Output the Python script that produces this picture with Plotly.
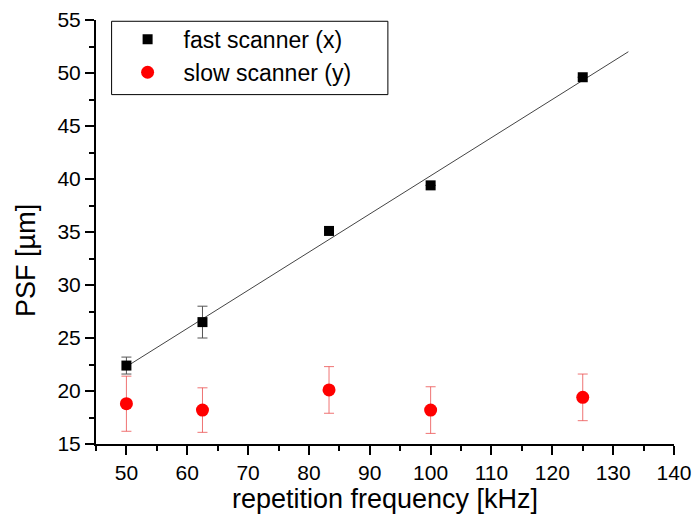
import numpy as np
import plotly.graph_objects as go

freq = [50, 62.5, 83.3, 100, 125]
fast_psf = [22.4, 26.5, 35.1, 39.4, 49.6]
fast_err = [0.8, 1.5, 0.0, 0.0, 0.0]
slow_psf = [18.8, 18.2, 20.1, 18.2, 19.4]
slow_err = [2.6, 2.1, 2.2, 2.2, 2.2]
fit_range = [50, 132.5]

slope, intercept = np.polyfit(freq, fast_psf, 1)
fit_y = [slope * v + intercept for v in fit_range]

font = "Liberation Sans, Arial, sans-serif"
fig = go.Figure()
fig.add_trace(go.Scatter(x=fit_range, y=fit_y, mode="lines",
                         line=dict(color="#444444", width=1), showlegend=False, hoverinfo="skip"))
fig.add_trace(go.Scatter(x=freq, y=fast_psf, mode="markers", name="fast scanner (x)",
                         marker=dict(symbol="square", size=10, color="black"),
                         error_y=dict(type="data", array=fast_err, color="#555555", thickness=1, width=5)))
fig.add_trace(go.Scatter(x=freq, y=slow_psf, mode="markers", name="slow scanner (y)",
                         marker=dict(symbol="circle", size=13, color="#ff0000"),
                         error_y=dict(type="data", array=slow_err, color="rgba(235,80,80,0.8)", thickness=1, width=5)))

fig.add_shape(type="rect", xref="paper", yref="paper", x0=0.027, x1=0.505, y0=0.824, y1=0.997,
              line=dict(color="black", width=1), fillcolor="white", layer="below")

fig.add_annotation(text="PSF [µm]", textangle=-90, xref="paper", yref="paper",
                   x=-0.121, y=0.432, xanchor="center", yanchor="middle", showarrow=False,
                   borderpad=0, font=dict(size=27, family=font, color="black"))

fig.update_layout(
    width=692, height=519,
    margin=dict(l=88, r=26, t=10, b=83),
    plot_bgcolor="white", paper_bgcolor="white",
    font=dict(family=font, size=21, color="black"),
    legend=dict(x=0.027, y=1.005, xanchor="left", yanchor="top",
                borderwidth=0, bgcolor="rgba(0,0,0,0)",
                font=dict(size=23), itemsizing="trace", itemwidth=62, tracegroupgap=0),
    xaxis=dict(range=[45, 140], dtick=10, tick0=0, showgrid=False, zeroline=False,
               showline=True, linecolor="black", linewidth=2, automargin=False,
               ticks="outside", ticklen=9, tickwidth=1.5, tickcolor="black",
               minor=dict(dtick=5, ticks="outside", ticklen=5, tickwidth=1.5, tickcolor="black"),
               title=dict(text="repetition frequency [kHz]", font=dict(size=27), standoff=6),
               tickfont=dict(size=21)),
    yaxis=dict(range=[15, 55], dtick=5, tick0=0, showgrid=False, zeroline=False,
               showline=True, linecolor="black", linewidth=2, automargin=False,
               ticks="outside", ticklen=9, tickwidth=1.5, tickcolor="black",
               minor=dict(dtick=2.5, ticks="outside", ticklen=5, tickwidth=1.5, tickcolor="black"),
               tickfont=dict(size=21)),
)
fig.write_html("out.html")
